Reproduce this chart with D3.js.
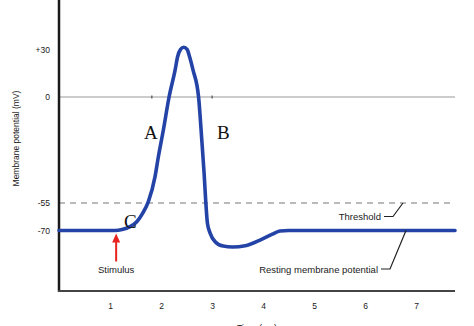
<!DOCTYPE html>
<html><head><meta charset="utf-8">
<script src="https://cdn.jsdelivr.net/npm/d3@7"></script>
<style>body{margin:0;background:#fff}svg{display:block}</style>
</head><body><svg id="c" width="474" height="326"></svg>
<script>
// ---- data ----
const xTicks = [1, 2, 3, 4, 5, 6, 7];
const yTickValues = [30, 0, -55, -70];
const yTickLabels = ["+30", "0", "-55", "-70"];
const timeMs = [0, 1.1, 1.235, 1.392, 1.524, 1.641, 1.751, 1.882, 1.947, 2.045, 2.157, 2.275, 2.324, 2.382, 2.445, 2.51, 2.559, 2.627, 2.735, 2.798, 2.843, 2.876, 2.908, 2.961, 3.059, 3.216, 3.4, 3.65, 3.94, 4.18, 4.33, 4.5, 7.76];
const potentialMv = [-70, -70, -69.5, -67.9, -65.2, -60.5, -54.3, -41.3, -31, -17.1, 0, 17.2, 25.7, 30.4, 31.8, 30.4, 25.7, 17.2, 0, -22.3, -39.4, -54.3, -65.9, -71.4, -76.1, -78.5, -79, -78.3, -75.2, -72, -70.3, -70, -70];
const restingMv = -70, thresholdMv = -55, zeroMv = 0;
const stimulusT = 1.12;
const letterLabels = ["A", "B", "C"];
const letterT = [1.8, 3.22, 1.4];
const letterMv = [-22, -22, -68.5];

// ---- layout ----
const svg = d3.select("#c");
const mLeft = 59, mRight = 455, mTop = 0, mBottom = 291;
const x = d3.scaleLinear().domain([0, 7.76]).range([mLeft, mRight]);
const y = d3.scaleLinear().domain([-70, -55, 0, 30]).range([230.5, 203, 97, 50]);
const font = "'Liberation Sans', Arial, Helvetica, sans-serif";

// reference lines
svg.append("line").attr("x1", mLeft).attr("x2", mRight).attr("y1", y(zeroMv)).attr("y2", y(zeroMv))
  .attr("stroke", "#999").attr("stroke-width", 1.2);
[1.82, 3.0].forEach(t => svg.append("line").attr("x1", x(t)).attr("x2", x(t))
  .attr("y1", y(zeroMv) - 1.5).attr("y2", y(zeroMv) + 1.5).attr("stroke", "#333").attr("stroke-width", 1));
svg.append("line").attr("x1", mLeft).attr("x2", mRight).attr("y1", y(thresholdMv)).attr("y2", y(thresholdMv))
  .attr("stroke", "#777").attr("stroke-width", 1.2).attr("stroke-dasharray", "6,5");

// axes lines
svg.append("line").attr("x1", mLeft).attr("x2", mLeft).attr("y1", mTop).attr("y2", mBottom + 1)
  .attr("stroke", "#1a1a1a").attr("stroke-width", 2.5);
svg.append("line").attr("x1", mLeft - 1).attr("x2", mRight).attr("y1", mBottom).attr("y2", mBottom)
  .attr("stroke", "#444").attr("stroke-width", 2);

// tick labels via axes
const yAxis = d3.axisLeft(y).tickValues(yTickValues).tickSize(0).tickPadding(0)
  .tickFormat((d, i) => yTickLabels[i]);
const gy = svg.append("g").attr("transform", `translate(${mLeft - 9},0)`).call(yAxis);
gy.select(".domain").remove();
gy.selectAll("text").attr("font-family", font).attr("font-size", 8.5).attr("fill", "#1a1a1a");

const xAxis = d3.axisBottom(x).tickValues(xTicks).tickSize(0).tickPadding(0).tickFormat(d3.format("d"));
const gx = svg.append("g").attr("transform", `translate(0,${mBottom + 12})`).call(xAxis);
gx.select(".domain").remove();
gx.selectAll("text").attr("font-family", font).attr("font-size", 8.5).attr("fill", "#1a1a1a");

// axis titles
svg.append("text").attr("transform", `translate(19,${138.5}) rotate(-90)`).attr("text-anchor", "middle")
  .attr("font-family", font).attr("font-size", 8.5).attr("fill", "#1a1a1a").text("Membrane potential (mV)");
svg.append("text").attr("x", (mLeft + mRight) / 2).attr("y", 331).attr("text-anchor", "middle")
  .attr("font-family", font).attr("font-size", 9).attr("fill", "#1a1a1a").text("Time (ms)");

// curve
const pts = timeMs.map((t, i) => [t, potentialMv[i]]);
svg.append("path").datum(pts)
  .attr("d", d3.line().x(d => x(d[0])).y(d => y(d[1])).curve(d3.curveMonotoneX))
  .attr("fill", "none").attr("stroke", "#2443a6").attr("stroke-width", 3.6)
  .attr("stroke-linecap", "round").attr("stroke-linejoin", "round");

// letters
letterLabels.forEach((l, i) => svg.append("text").attr("x", x(letterT[i])).attr("y", y(letterMv[i]))
  .attr("text-anchor", "middle").attr("font-family", "'Liberation Serif','Times New Roman',serif")
  .attr("font-size", 19).attr("fill", "#111").text(l));

// stimulus arrow
const sx = x(stimulusT), tipY = y(restingMv) + 3;
svg.append("line").attr("x1", sx).attr("x2", sx).attr("y1", tipY + 6).attr("y2", tipY + 28)
  .attr("stroke", "#e8231f").attr("stroke-width", 2);
svg.append("path").attr("d", `M${sx},${tipY} L${sx - 4},${tipY + 9} L${sx + 4},${tipY + 9} Z`).attr("fill", "#e8231f");
svg.append("text").attr("x", sx).attr("y", tipY + 39).attr("text-anchor", "middle")
  .attr("font-family", font).attr("font-size", 9.5).attr("fill", "#1a1a1a").text("Stimulus");

// callouts
function callout(label, tx, ty, px, pMv) {
  svg.append("text").attr("x", tx).attr("y", ty + 3.5).attr("text-anchor", "end")
    .attr("font-family", font).attr("font-size", 9.5).attr("fill", "#1a1a1a").text(label);
  svg.append("path").attr("d", `M${tx + 3},${ty} L${tx + 12},${ty} L${x(px)},${y(pMv)}`)
    .attr("fill", "none").attr("stroke", "#222").attr("stroke-width", 1.2);
}
callout("Threshold", 381, 216.5, 6.74, thresholdMv);
callout("Resting membrane potential", 378, 269, 6.8, restingMv);
</script></body></html>
